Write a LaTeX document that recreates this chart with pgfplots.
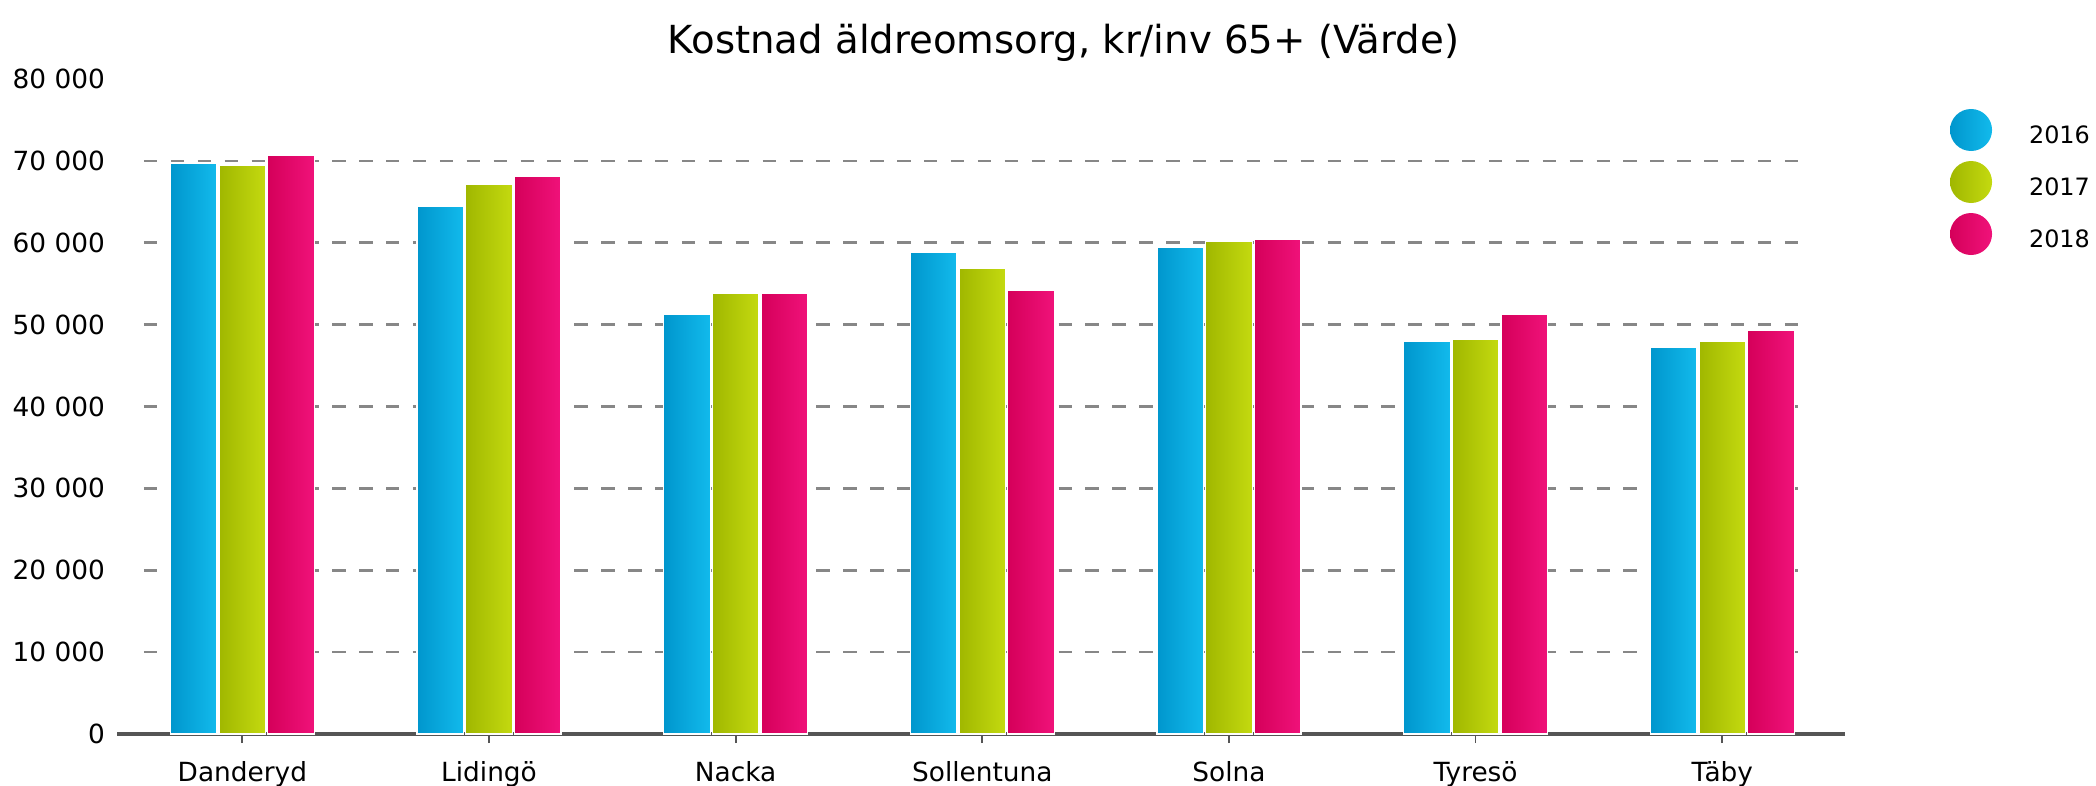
\documentclass[border=0pt]{standalone}
\usepackage{fontspec}
\setmainfont{DejaVu Sans}
\usepackage{pgfplots}
\pgfplotsset{compat=1.18}
\usepackage{pgfplotstable}

\definecolor{bA}{RGB}{0,150,205}
\definecolor{bB}{RGB}{18,186,236}
\definecolor{gA}{RGB}{160,183,0}
\definecolor{gB}{RGB}{196,218,16}
\definecolor{pA}{RGB}{213,0,90}
\definecolor{pB}{RGB}{240,18,122}
\definecolor{gridc}{RGB}{135,135,135}
\definecolor{axisc}{RGB}{85,85,85}

\pgfplotstableread{
x y2016 y2017 y2018
0 69750 69430 70740
1 64470 67130 68110
2 51300 53880 53880
3 58820 56840 54200
4 59470 60120 60450
5 47920 48240 51240
6 47270 47920 49260
}\datatable

\begin{document}
\begin{tikzpicture}
\path[use as bounding box] (-1.173,-0.51) rectangle (19.787,7.34);
\begin{axis}[
  at={(0,0)}, anchor=south west,
  scale only axis, width=17.28cm, height=6.55cm,
  xmin=-0.507, xmax=6.499, ymin=0, ymax=80000,
  axis x line*=bottom, axis y line*=left,
  y axis line style={draw=none},
  x axis line style={color=axisc, line width=1.3pt},
  xtick={0,...,6},
  xticklabels={Danderyd,Lidingö,Nacka,Sollentuna,Solna,Tyresö,Täby},
  x tick style={color=axisc, line width=0.5pt},
  tick align=outside, major tick length=0.09cm,
  ytick={0,10000,20000,30000,40000,50000,60000,70000,80000},
  yticklabels={0,10 000,20 000,30 000,40 000,50 000,60 000,70 000,80 000},
  scaled y ticks=false,
  y tick style={draw=none},
  xticklabel style={font=\fontsize{7.5}{9}\selectfont, yshift=-0.06cm},
  yticklabel style={font=\fontsize{7.5}{9}\selectfont, xshift=0.09cm},
  /pgf/number format/assume math mode=true,
  legend style={at={(1.0606,0.9542)}, anchor=north west, draw=none, fill=none,
    inner sep=0pt, outer sep=0pt, row sep=0.10cm, column sep=0.37cm,
    nodes={inner sep=0pt}, font=\fontsize{6.8}{8}\selectfont},
  legend cell align=left,
  clip=false,
]
\pgfplotsinvokeforeach{10000,20000,30000,40000,50000,60000,70000}{
  \draw[gridc, line width=0.75pt, dash pattern=on 0.134cm off 0.135cm]
    (axis cs:-0.399,#1) -- (axis cs:6.356,#1);
}
\pgfplotsinvokeforeach{0,...,6}{
\addplot[ybar, bar width=0.467cm, bar shift=-0.487cm, left color=bA, right color=bB,
  draw=white, line width=0.4pt, forget plot,
  restrict x to domain=#1:#1] table[x=x,y=y2016]{\datatable};
\addplot[ybar, bar width=0.467cm, bar shift=0cm, left color=gA, right color=gB,
  draw=white, line width=0.4pt, forget plot,
  restrict x to domain=#1:#1] table[x=x,y=y2017]{\datatable};
\addplot[ybar, bar width=0.467cm, bar shift=0.487cm, left color=pA, right color=pB,
  draw=white, line width=0.4pt, forget plot,
  restrict x to domain=#1:#1] table[x=x,y=y2018]{\datatable};
}
\addlegendimage{legend image code/.code={\shade[draw=none,left color=bA,right color=bB] (0.21cm,0.075cm) circle (0.21cm);}}
\addlegendentry{2016}
\addlegendimage{legend image code/.code={\shade[draw=none,left color=gA,right color=gB] (0.21cm,0.075cm) circle (0.21cm);}}
\addlegendentry{2017}
\addlegendimage{legend image code/.code={\shade[draw=none,left color=pA,right color=pB] (0.21cm,0.075cm) circle (0.21cm);}}
\addlegendentry{2018}
\end{axis}
\node[font=\fontsize{11}{13}\selectfont, inner sep=0pt] at (9.462,6.913)
  {Kostnad äldreomsorg, kr/inv 65+ (Värde)};
\end{tikzpicture}
\end{document}
